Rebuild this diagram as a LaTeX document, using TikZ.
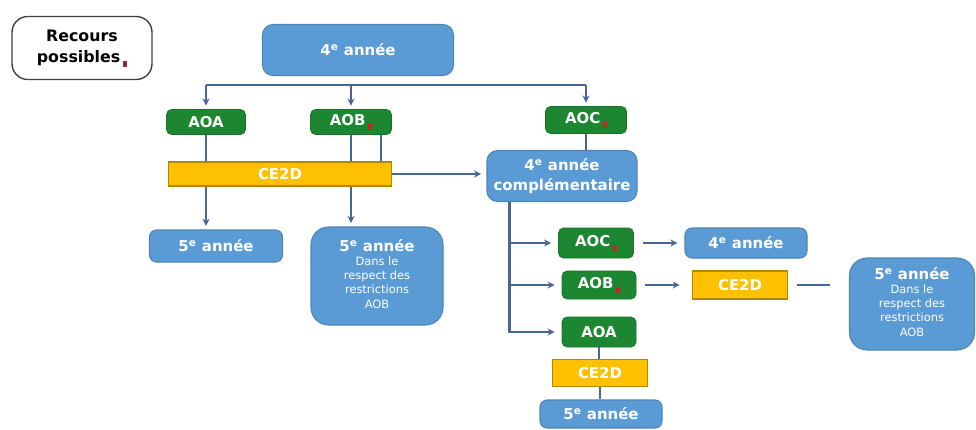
\documentclass[tikz,border=0pt]{standalone}
\usepackage{fontspec}
\setmainfont{DejaVu Sans}
\usetikzlibrary{arrows.meta, positioning, calc}
\definecolor{yearblue}{RGB}{91,155,213}
\definecolor{aogreen}{RGB}{28,135,48}
\definecolor{ceyellow}{RGB}{255,192,0}
\definecolor{linkslate}{RGB}{74,102,148}
\definecolor{notered}{RGB}{205,35,30}
\definecolor{notemaroon}{RGB}{140,40,65}
\newcommand{\redsq}[1][notered]{\,\raisebox{-2.5pt}{\textcolor{#1}{\rule{2.4pt}{3.4pt}}}}
\newcommand{\ann}[1]{#1\textsuperscript{e}~année}
\newcommand{\restr}{\\[1pt]{\fontsize{6.5}{8.2}\selectfont\mdseries
  \begin{tabular}{@{}c@{}}Dans le\\respect des\\restrictions\\AOB\end{tabular}}}

\begin{document}
\begin{tikzpicture}[
  x=0.02cm, y=-0.02cm,
  box/.style 2 args={rectangle, inner sep=0pt, minimum width=#1*0.02cm, minimum height=#2*0.02cm, align=center, font=\fontsize{8.5}{11.5}\selectfont\bfseries, text=white},
  year/.style={fill=yearblue, draw=yearblue!85!black, line width=0.6pt, rounded corners=4pt},
  ao/.style={fill=aogreen, draw=aogreen!85!black, line width=0.5pt, rounded corners=3pt},
  ce/.style={fill=ceyellow, draw=ceyellow!70!black, line width=0.6pt},
  link/.style={line width=1.5pt, linkslate},
  arrow/.style={link, -{Stealth[length=4pt, width=4pt]}, shorten >=2pt}
]
  \useasboundingbox (0,0) rectangle (976,429);

  % legend
  \node[box={140}{63}, draw=black!75, line width=0.8pt, rounded corners=9pt, text=black, font=\fontsize{9}{12}\selectfont\bfseries] (recours) at (82,48) {Recours\\possibles\redsq[notemaroon]};

  % first level
  \node[box={191}{51}, year, rounded corners=6pt] (top) at (358,50) {\ann{4}};
  \node[box={79}{25}, ao] (aoa) at (206,122) {AOA};
  \node[box={81}{25}, ao] (aob) at (351,122) {AOB\redsq};
  \node[box={81}{27}, ao] (aoc) at (586,120) {AOC\redsq};
  \node[box={223}{24}, ce] (ceA) at (280,174) {CE2D};
  \node[box={150}{51}, year, rounded corners=6pt] (comp) at (562,176) {\ann{4}\\complémentaire};
  \node[box={133}{32}, year] (cinqA) at (216,246) {\ann{5}};
  \node[box={132}{98}, year, rounded corners=10pt] (cinqB) at (377,276) {\ann{5}\restr};

  % second level
  \node[box={75}{30}, ao] (aocB) at (596,243) {AOC\redsq};
  \node[box={122}{30}, year] (quatB) at (746,243) {\ann{4}};
  \node[box={74}{28}, ao] (aobB) at (599,285) {AOB\redsq};
  \node[box={95}{28}, ce] (ceB) at (740,285) {CE2D};
  \node[box={125}{92}, year, rounded corners=10pt] (cinqC) at (912,304) {\ann{5}\restr};
  \node[box={74}{30}, ao] (aoaB) at (599,332) {AOA};
  \node[box={95}{27}, ce] (ceC) at (600,373) {CE2D};
  \node[box={122}{28}, year] (cinqD) at (601,414) {\ann{5}};

  % fork under the top box
  \coordinate (fork) at ([yshift=-0.18cm]top.south);
  \draw[link] (fork -| aoa) -- (fork -| aoc);
  \draw[arrow] (fork -| aoa) -- (aoa);
  \draw[arrow] (fork -| aob) -- (aob);
  \draw[arrow] (fork -| aoc) -- (aoc);

  % through the CE2D bar
  \coordinate (aobR) at ([xshift=-0.22cm]aob.south east);
  \draw[link] (aoa) -- (aoa |- ceA.north);
  \draw[arrow] (aoa |- ceA.south) -- (aoa |- cinqA.north);
  \draw[link] (aob) -- (aob |- ceA.north);
  \draw[link] (aobR) -- (aobR |- ceA.north);
  \draw[arrow] (aob |- ceA.south) -- (aob |- cinqB.north);
  \draw[arrow, shorten >=3pt] (ceA.east) -- (ceA.east -| comp.west);
  \draw[link] (aoc.south) -- (aoc.south |- comp.north);

  % 4e annee complementaire
  \coordinate (spine) at ([xshift=0.46cm]comp.south west);
  \draw[arrow, shorten >=4pt] (spine) |- (aoaB.west);
  \draw[arrow, shorten >=4pt] (spine |- aocB) -- (aocB);
  \draw[arrow, shorten >=4pt] (spine |- aobB) -- (aobB);
  \draw[arrow, shorten <=5pt, shorten >=4pt] (aocB) -- (quatB);
  \draw[arrow, shorten <=5pt, shorten >=7pt] (aobB) -- (ceB);
  \draw[link, shorten <=5pt, shorten >=11pt] (ceB) -- (ceB -| cinqC.west);
  \draw[link] (aoaB) -- (aoaB |- ceC.north);
  \draw[link] (ceC) -- (ceC |- cinqD.north);
\end{tikzpicture}
\end{document}
